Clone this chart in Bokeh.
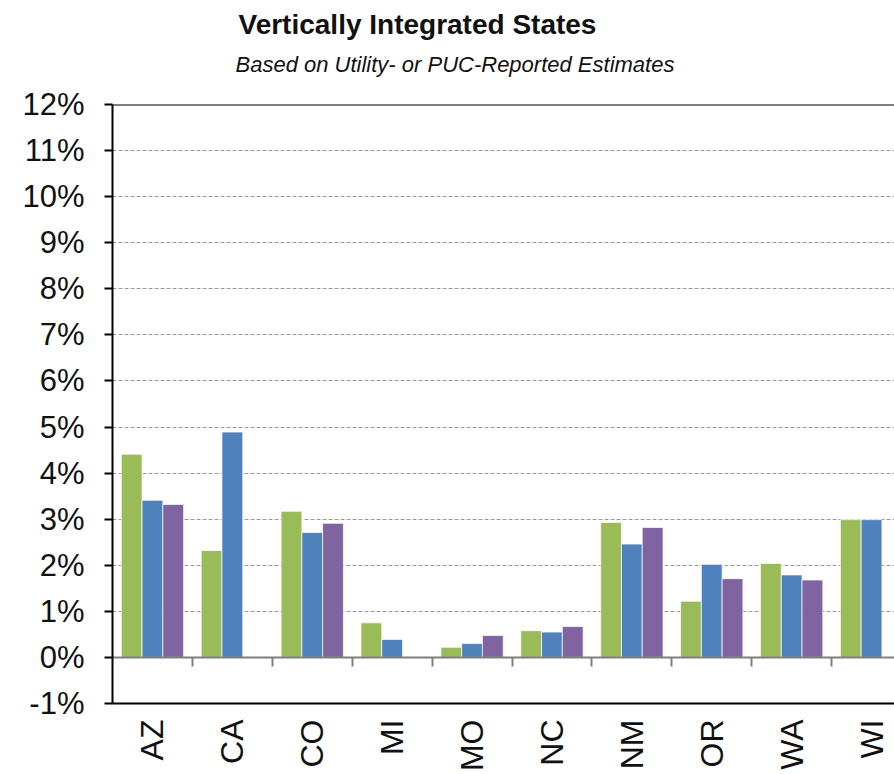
import math
import numpy as np
from bokeh.plotting import figure
from bokeh.models import (Range1d, LinearAxis, FixedTicker, PrintfTickFormatter,
                          Span, Title, ColumnDataSource, Grid)
from bokeh.embed import file_html
from bokeh.resources import INLINE

# ---------------- data ----------------
states = ["AZ", "CA", "CO", "MI", "MO", "NC", "NM", "OR", "WA", "WI"]
series_green = [4.41, 2.32, 3.17, 0.75, 0.22, 0.58, 2.93, 1.22, 2.04, 2.99]
series_blue = [3.41, 4.89, 2.71, 0.39, 0.30, 0.55, 2.46, 2.02, 1.79, 2.99]
series_purple = [3.32, np.nan, 2.91, np.nan, 0.475, 0.67, 2.82, 1.71, 1.68, np.nan]
y_ticks = list(range(-1, 13))

colors = ["#9BBB59", "#4F81BD", "#8064A2"]
FONT = "Liberation Sans"

n = len(states)
idx = np.arange(n)

W, H = 894, 774
p = figure(width=W, height=H, output_backend="svg", toolbar_location=None,
           x_range=Range1d(-0.5, -0.5 + 782 / 79.9), y_range=Range1d(-1, 12),
           min_border_left=112, min_border_right=0, min_border_top=104,
           min_border_bottom=71, x_axis_type=None, y_axis_type=None)
p.outline_line_color = None
p.background_fill_color = "white"
p.border_fill_color = "white"

p.xgrid.visible = False
p.ygrid.visible = False
g = Grid(dimension=1, ticker=FixedTicker(ticks=[t for t in y_ticks if 0 < t < 12]),
         grid_line_color="#9a9a9a", grid_line_dash="4 2", grid_line_width=1)
p.add_layout(g)

# bars
bw = 0.26
for k, (vals, col) in enumerate(zip([series_green, series_blue, series_purple], colors)):
    src = ColumnDataSource(dict(x=idx + (k - 1) * bw, top=np.array(vals, dtype=float)))
    p.vbar(x="x", top="top", bottom=0, width=bw, source=src, fill_color=col,
           line_color="white", line_width=1, line_alpha=0.7)

# y axis
yax = LinearAxis(ticker=FixedTicker(ticks=y_ticks),
                 formatter=PrintfTickFormatter(format="%d%%"))
yax.axis_line_color = "black"
yax.axis_line_width = 2
yax.major_tick_line_color = "black"
yax.major_tick_line_width = 2
yax.major_tick_out = 8
yax.major_tick_in = 0
yax.minor_tick_line_color = None
yax.major_label_standoff = 20
yax.major_label_text_font = FONT
yax.major_label_text_font_size = "31px"
yax.major_label_text_color = "#111111"
p.add_layout(yax, "left")

# bottom axis (category labels)
xax = LinearAxis(ticker=FixedTicker(ticks=list(idx)),
                 major_label_overrides={int(i): s for i, s in enumerate(states)})
xax.axis_line_color = "black"
xax.axis_line_width = 2
xax.major_tick_line_color = None
xax.major_tick_out = 0
xax.major_tick_in = 0
xax.minor_tick_line_color = None
xax.major_label_orientation = math.pi / 2
xax.major_label_standoff = 16
xax.major_label_text_font = FONT
xax.major_label_text_font_size = "32px"
xax.major_label_text_color = "#111111"
p.add_layout(xax, "below")

# zero line with tick marks between categories
zax = LinearAxis(ticker=FixedTicker(ticks=list(idx[:-1] + 0.5)), fixed_location=0)
zax.axis_line_color = "#7f7f7f"
zax.axis_line_width = 2
zax.major_tick_line_color = "#7f7f7f"
zax.major_tick_line_width = 2
zax.major_tick_out = 9
zax.major_tick_in = 0
zax.minor_tick_line_color = None
zax.major_label_text_font_size = "0px"
zax.major_label_text_alpha = 0
p.add_layout(zax, "below")

# top border
p.add_layout(Span(location=12, dimension="width", line_color="black", line_width=2))

# titles (first added is nearest the frame); a white spacer sits below the subtitle
spacer = Title(text=".", align="left", text_font=FONT, text_font_size="10px",
               text_color="white", standoff=14)
p.add_layout(spacer, "above")
sub = Title(text="Based on Utility- or PUC-Reported Estimates", align="left", offset=123,
            text_font=FONT, text_font_style="italic",
            text_font_size="22px", text_color="#111111", standoff=8)
p.add_layout(sub, "above")
ttl = Title(text="Vertically Integrated States", align="left", offset=126,
            text_font=FONT, text_font_style="bold", text_font_size="28px",
            text_color="#111111", standoff=11)
p.add_layout(ttl, "above")

open("out.html", "w").write(file_html(p, INLINE))
